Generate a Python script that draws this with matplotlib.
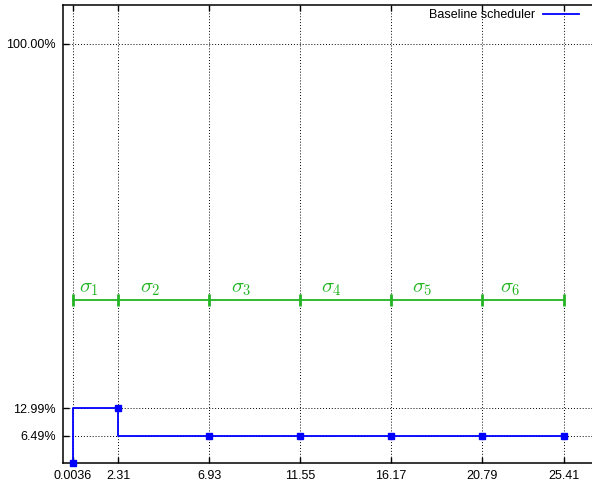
import matplotlib
matplotlib.use("Agg")
import matplotlib.pyplot as plt
from matplotlib.lines import Line2D

# data
x_pos = [0.0036, 2.31, 6.93, 11.55, 16.17, 20.79, 24.98]
x_labels = ["0.0036", "2.31", "6.93", "11.55", "16.17", "20.79", "25.41"]
baseline = [0.0, 12.99, 6.49, 6.49, 6.49, 6.49, 6.49]
y_ticks = [6.49, 12.99, 100.0]
y_labels = ["6.49%", "12.99%", "100.00%"]
sigma_level = 38.9
sigma_names = [r"$\sigma_{%d}$" % (i + 1) for i in range(6)]

blue = "#0000ff"
green = "#22b422"

plt.rcParams['font.family'] = ['Liberation Sans', 'DejaVu Sans']
plt.rcParams['mathtext.fontset'] = 'cm'

fig = plt.figure(figsize=(5.92, 4.90), dpi=100)
ax = fig.add_axes([63/592, 27.3/490, 531/592, 457.7/490])

ax.plot(x_pos, baseline, color=blue, lw=1.3, drawstyle='steps-pre',
        marker='s', ms=5, clip_on=False, zorder=5)

# sigma intervals
ax.plot(x_pos, [sigma_level]*len(x_pos), color=green, lw=1.3,
        marker='|', ms=9, mew=2, zorder=4)
for i, name in enumerate(sigma_names):
    xm = x_pos[i] + 0.35*(x_pos[i+1] - x_pos[i])
    ax.annotate(name, (xm, sigma_level), xytext=(0, 5),
                textcoords='offset points', ha='center', va='baseline',
                color=green, fontsize=15)

ax.set_xlim(-0.504, 26.5)
ax.set_ylim(0, 109.3)
ax.set_xticks(x_pos)
ax.set_xticklabels(x_labels)
ax.set_yticks(y_ticks)
ax.set_yticklabels(y_labels)
ax.tick_params(direction='in', top=True, right=False, length=4, width=1,
               labelsize=9, colors='black', pad=5)
ax.grid(True, color='black', ls=(0, (1, 2)), lw=0.7)
for sp in ax.spines.values():
    sp.set_linewidth(1.1)

handle = Line2D([], [], color=blue, lw=1.3)
ax.legend([handle], ["Baseline scheduler"], loc='upper right',
          bbox_to_anchor=(579/592, 1 - 9/490),
          bbox_transform=fig.transFigure, frameon=False, markerfirst=False,
          borderpad=0, borderaxespad=0, handlelength=2.9,
          handletextpad=0.64, fontsize=9)

fig.savefig("out.png", dpi=100)
